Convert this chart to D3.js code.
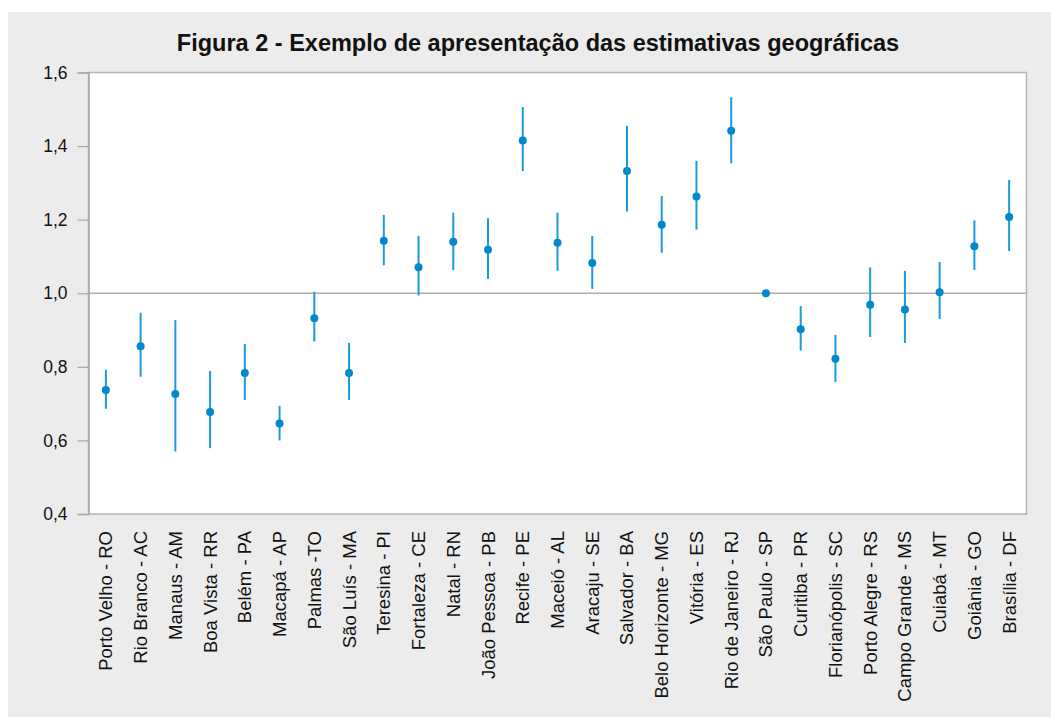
<!DOCTYPE html>
<html>
<head>
<meta charset="utf-8">
<script src="https://cdn.jsdelivr.net/npm/d3@7"></script>
<style>
  html, body { margin: 0; padding: 0; background: #ffffff; }
  svg { display: block; }
  text { font-family: "Liberation Sans", Arial, Helvetica, sans-serif; }
</style>
</head>
<body>
<svg id="chart" width="1051" height="717"></svg>
<script>
// Cities (with state) along the horizontal axis
const cities = [
  "Porto Velho - RO", "Rio Branco - AC", "Manaus - AM", "Boa Vista - RR",
  "Belém - PA", "Macapá - AP", "Palmas -TO", "São Luís - MA", "Teresina - PI",
  "Fortaleza - CE", "Natal - RN", "João Pessoa - PB", "Recife - PE",
  "Maceió - AL", "Aracaju - SE", "Salvador - BA", "Belo Horizonte - MG",
  "Vitória - ES", "Rio de Janeiro - RJ", "São Paulo - SP", "Curitiba - PR",
  "Florianópolis - SC", "Porto Alegre - RS", "Campo Grande - MS",
  "Cuiabá - MT", "Goiânia - GO", "Brasília - DF"
];

// Point estimates
const estimates = [
  0.737, 0.856, 0.726, 0.677, 0.783, 0.646, 0.932, 0.783, 1.143,
  1.071, 1.140, 1.118, 1.415, 1.137, 1.082, 1.332, 1.186, 1.263,
  1.442, 1.000, 0.902, 0.822, 0.969, 0.956, 1.003, 1.128, 1.207
];

// Interval lower bounds (null = no interval, reference city)
const lowerBounds = [
  0.686, 0.773, 0.570, 0.579, 0.710, 0.600, 0.869, 0.710, 1.076,
  0.994, 1.063, 1.039, 1.332, 1.061, 1.012, 1.222, 1.110, 1.173,
  1.353, null, 0.844, 0.759, 0.881, 0.865, 0.930, 1.063, 1.115
];

// Interval upper bounds
const upperBounds = [
  0.792, 0.947, 0.927, 0.789, 0.862, 0.694, 1.004, 0.865, 1.213,
  1.156, 1.219, 1.204, 1.506, 1.219, 1.156, 1.455, 1.264, 1.360,
  1.533, null, 0.965, 0.887, 1.070, 1.061, 1.085, 1.198, 1.308
];

// Y-axis ticks
const yTicks = [0.4, 0.6, 0.8, 1.0, 1.2, 1.4, 1.6];
const yDomain = [0.4, 1.6];
const referenceValue = 1.0;

const titleText = "Figura 2 - Exemplo de apresentação das estimativas geográficas";

const rows = cities.map((c, i) => ({
  city: c, est: estimates[i], lo: lowerBounds[i], hi: upperBounds[i]
}));

const svg = d3.select("#chart");
const W = 1051, H = 717;

// Panel background
svg.append("rect")
  .attr("x", 8).attr("y", 12)
  .attr("width", W - 8).attr("height", H - 12)
  .attr("fill", "#ececec");

const plot = { left: 88.5, top: 72.5, right: 1026.5, bottom: 514 };

const x = d3.scaleBand()
  .domain(cities)
  .range([plot.left, plot.right])
  .padding(0);

const y = d3.scaleLinear()
  .domain(yDomain)
  .range([plot.bottom, plot.top]);

// Plot area
svg.append("rect")
  .attr("x", plot.left).attr("y", plot.top)
  .attr("width", plot.right - plot.left)
  .attr("height", plot.bottom - plot.top)
  .attr("fill", "#ffffff")
  .attr("stroke", "#b4b4b4")
  .attr("stroke-width", 1.5);

// Reference line at 1,0
svg.append("line")
  .attr("x1", plot.left).attr("x2", plot.right)
  .attr("y1", y(referenceValue)).attr("y2", y(referenceValue))
  .attr("stroke", "#b0b0b0")
  .attr("stroke-width", 1.3);

// Y axis
const fmt = d3.format(".1f");
const yAxis = d3.axisLeft(y)
  .tickValues(yTicks)
  .tickSize(11)
  .tickPadding(10)
  .tickFormat(d => fmt(d).replace(".", ","));

const gy = svg.append("g")
  .attr("transform", `translate(${plot.left},0)`)
  .call(yAxis);
gy.select(".domain").attr("stroke", "#a8a8a8").attr("stroke-width", 1.5);
gy.selectAll(".tick line").attr("stroke", "#a8a8a8").attr("stroke-width", 1.2);
gy.selectAll(".tick text")
  .attr("fill", "#111")
  .style("font-size", "17.5px")
  .style("font-family", "'Liberation Sans', Arial, sans-serif");

// X axis labels (rotated)
const xAxis = d3.axisBottom(x).tickSize(0).tickPadding(0);
const gx = svg.append("g")
  .attr("transform", `translate(0,${plot.bottom})`)
  .call(xAxis);
gx.select(".domain").remove();
gx.selectAll(".tick text")
  .attr("fill", "#111")
  .style("font-size", "18.5px")
  .style("font-family", "'Liberation Sans', Arial, sans-serif")
  .attr("text-anchor", "end")
  .attr("dy", "0.35em")
  .attr("transform", "translate(0,17) rotate(-90)")
  .attr("x", 0).attr("y", 0);

// Interval bars
const cx = d => x(d.city) + x.bandwidth() / 2;
svg.append("g")
  .selectAll("line")
  .data(rows.filter(d => d.lo !== null))
  .join("line")
  .attr("x1", cx).attr("x2", cx)
  .attr("y1", d => y(d.lo)).attr("y2", d => y(d.hi))
  .attr("stroke", "#1a9be0")
  .attr("stroke-width", 2);

// Point estimates
svg.append("g")
  .selectAll("circle")
  .data(rows)
  .join("circle")
  .attr("cx", cx)
  .attr("cy", d => y(d.est))
  .attr("r", 4)
  .attr("fill", "#0088cc");

// Title
svg.append("text")
  .attr("x", 538).attr("y", 51)
  .attr("text-anchor", "middle")
  .attr("fill", "#111")
  .style("font-size", "23.5px")
  .style("font-weight", "bold")
  .text(titleText);
</script>
</body>
</html>
